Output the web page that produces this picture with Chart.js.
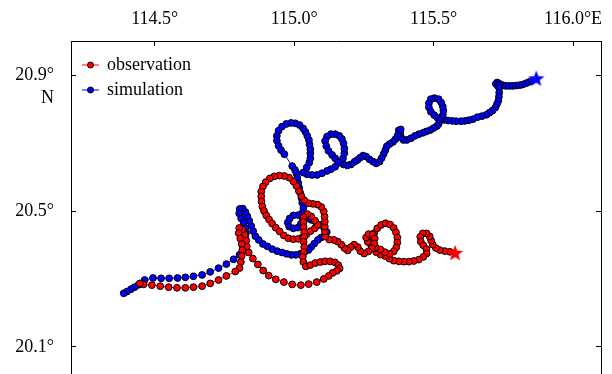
<!DOCTYPE html>
<html>
<head>
<meta charset="utf-8">
<script src="https://cdn.jsdelivr.net/npm/chart.js@4"></script>
<style>
    html, body { margin: 0; padding: 0; background: #fff; overflow: hidden; }
    #wrap { width: 612px; height: 374px; overflow: hidden; }
</style>
</head>
<body>
<div id="wrap"><canvas id="track" width="612" height="392"></canvas></div>
<script>
// axis ticks and labels
const lonTicks = [114.5, 115.0, 115.5, 116.0];
const lonTickLabels = ['114.5°', '115.0°', '115.5°', '116.0°E'];
const latTicks = [20.1, 20.5, 20.9];
const latTickLabels = ['20.1°', '20.5°', '20.9°'];
const latHemisphere = 'N';

const seriesNames = ['observation', 'simulation'];

// start positions (stars)
const obsStart = [115.577, 20.377];
const simStart = [115.868, 20.890];

// observed track
const obsLon = [
    115.558, 115.540, 115.522, 115.508, 115.497, 115.491, 115.486, 115.475, 115.461, 115.452,
    115.454, 115.463, 115.474, 115.475, 115.463, 115.447, 115.429, 115.411, 115.393, 115.375,
    115.357, 115.341, 115.325, 115.309, 115.294, 115.285, 115.281, 115.282, 115.287, 115.298,
    115.312, 115.328, 115.344, 115.357, 115.365, 115.370, 115.370, 115.366, 115.357, 115.343,
    115.325, 115.309, 115.292, 115.276, 115.264, 115.258, 115.267, 115.282, 115.289, 115.287,
    115.278, 115.266, 115.251, 115.237, 115.228, 115.215, 115.203, 115.192, 115.180, 115.169,
    115.156, 115.142, 115.126, 115.111, 115.110, 115.110, 115.110, 115.109, 115.106, 115.097,
    115.083, 115.067, 115.051, 115.036, 115.026, 115.017, 115.008, 114.997, 114.982, 114.965,
    114.947, 114.929, 114.913, 114.898, 114.888, 114.882, 114.882, 114.883, 114.886, 114.892,
    114.900, 114.910, 114.921, 114.934, 114.948, 114.963, 114.979, 114.997, 115.015, 115.031,
    115.045, 115.059, 115.074, 115.085, 115.074, 115.061, 115.047, 115.034, 115.033, 115.034,
    115.036, 115.036,
    115.034, 115.036, 115.034, 115.031, 115.033, 115.042, 115.058, 115.076, 115.094,
    115.111, 115.129, 115.146, 115.158, 115.163, 115.153, 115.138, 115.124, 115.106, 115.081,
    115.052, 115.024, 114.993, 114.963, 114.934, 114.909, 114.889, 114.870, 114.852, 114.837,
    114.830, 114.828, 114.823, 114.814, 114.803, 114.801, 114.807, 114.812, 114.814, 114.812,
    114.809, 114.804, 114.789, 114.757, 114.729, 114.699, 114.670, 114.639, 114.610, 114.580,
    114.550, 114.520, 114.490, 114.460, 114.447
];
const obsLat = [
    20.380, 20.382, 20.385, 20.391, 20.401, 20.413, 20.425, 20.434, 20.434, 20.424,
    20.410, 20.399, 20.388, 20.375, 20.365, 20.357, 20.353, 20.351, 20.351, 20.352,
    20.354, 20.360, 20.368, 20.372, 20.379, 20.391, 20.406, 20.421, 20.435, 20.449,
    20.459, 20.464, 20.460, 20.450, 20.437, 20.422, 20.407, 20.393, 20.381, 20.374,
    20.379, 20.387, 20.393, 20.399, 20.409, 20.422, 20.432, 20.431, 20.419, 20.404,
    20.391, 20.381, 20.375, 20.382, 20.394, 20.401, 20.394, 20.384, 20.391, 20.401,
    20.410, 20.415, 20.416, 20.425, 20.440, 20.454, 20.469, 20.484, 20.499, 20.512,
    20.519, 20.521, 20.523, 20.532, 20.544, 20.559, 20.574, 20.587, 20.598, 20.603,
    20.604, 20.602, 20.596, 20.585, 20.572, 20.557, 20.543, 20.528, 20.513, 20.500,
    20.487, 20.475, 20.463, 20.451, 20.440, 20.428, 20.420, 20.417, 20.418, 20.424,
    20.432, 20.441, 20.449, 20.459, 20.472, 20.484, 20.491, 20.482, 20.468, 20.453,
    20.438, 20.424,
    20.409, 20.394, 20.379, 20.365, 20.350, 20.337, 20.341, 20.347, 20.350,
    20.352, 20.352, 20.349, 20.341, 20.331, 20.324, 20.318, 20.309, 20.300, 20.291,
    20.285, 20.282, 20.284, 20.291, 20.299, 20.310, 20.325, 20.343, 20.360, 20.378,
    20.396, 20.413, 20.431, 20.446, 20.450, 20.435, 20.419, 20.403, 20.385, 20.368,
    20.350, 20.332, 20.322, 20.309, 20.297, 20.287, 20.279, 20.276, 20.274, 20.274,
    20.276, 20.279, 20.282, 20.284, 20.287
];

// simulated track
const simLon = [
    115.844, 115.832, 115.820, 115.808, 115.796, 115.784, 115.772, 115.760, 115.748, 115.736,
    115.728, 115.723, 115.730, 115.735, 115.735, 115.734, 115.732, 115.727, 115.721, 115.711,
    115.700, 115.689, 115.673, 115.657, 115.641, 115.626, 115.612, 115.598, 115.581, 115.567,
    115.552, 115.538, 115.526, 115.533, 115.535, 115.533, 115.527, 115.518, 115.503, 115.490,
    115.483, 115.483, 115.490, 115.502, 115.514, 115.521, 115.518, 115.512, 115.500, 115.488,
    115.474, 115.462, 115.447, 115.433, 115.419, 115.404, 115.392, 115.383, 115.380, 115.375,
    115.382, 115.371, 115.363, 115.354, 115.342, 115.332, 115.327, 115.321, 115.314, 115.306,
    115.294, 115.283, 115.270, 115.258, 115.247, 115.237, 115.227, 115.217, 115.204, 115.191,
    115.177, 115.165, 115.175, 115.180, 115.180, 115.177, 115.171, 115.162, 115.147, 115.132,
    115.118, 115.111, 115.115, 115.123, 115.136, 115.147, 115.157, 115.147, 115.132, 115.118,
    115.100, 115.082, 115.064, 115.046, 115.032, 115.045, 115.054, 115.058, 115.058, 115.058,
    115.055, 115.053, 115.047, 115.040, 115.032, 115.019, 115.004, 114.989, 114.972, 114.956,
    114.944, 114.938, 114.938, 114.944, 114.953, 114.965,
    114.993, 115.003, 115.008, 115.011, 115.015, 115.018, 115.022, 115.026, 115.029, 115.033,
    115.029, 115.015, 114.997, 114.984, 114.977, 114.982, 114.997, 115.013, 115.024, 115.031,
    115.046, 115.061, 115.076, 115.094, 115.108, 115.117, 115.110, 115.097, 115.085, 115.072,
    115.061, 115.051, 115.036, 115.022, 115.006, 114.990, 114.973, 114.956, 114.939, 114.921,
    114.904, 114.888, 114.873, 114.861, 114.853, 114.846, 114.839, 114.832, 114.825, 114.816,
    114.805, 114.803, 114.810, 114.819, 114.825, 114.827, 114.825, 114.821, 114.816, 114.804,
    114.783, 114.757, 114.729, 114.699, 114.670, 114.639, 114.610, 114.582, 114.552, 114.523,
    114.494, 114.464, 114.442, 114.428, 114.415, 114.401, 114.389
];
const simLat = [
    20.880, 20.876, 20.872, 20.870, 20.869, 20.868, 20.868, 20.868, 20.870, 20.874,
    20.878, 20.874, 20.868, 20.861, 20.848, 20.836, 20.824, 20.814, 20.804, 20.795,
    20.789, 20.783, 20.779, 20.776, 20.770, 20.767, 20.765, 20.764, 20.764, 20.765,
    20.766, 20.768, 20.771, 20.782, 20.795, 20.807, 20.819, 20.829, 20.832, 20.829,
    20.817, 20.805, 20.792, 20.782, 20.774, 20.766, 20.756, 20.750, 20.744, 20.738,
    20.734, 20.730, 20.726, 20.721, 20.714, 20.709, 20.709, 20.717, 20.728, 20.737,
    20.740, 20.722, 20.711, 20.703, 20.697, 20.690, 20.679, 20.668, 20.656, 20.645,
    20.640, 20.645, 20.652, 20.660, 20.663, 20.657, 20.650, 20.645, 20.637, 20.634,
    20.637, 20.642, 20.655, 20.670, 20.684, 20.699, 20.712, 20.721, 20.726, 20.726,
    20.719, 20.706, 20.691, 20.677, 20.665, 20.655, 20.643, 20.630, 20.623, 20.618,
    20.611, 20.606, 20.606, 20.608, 20.613, 20.628, 20.642, 20.655, 20.670, 20.682,
    20.696, 20.709, 20.721, 20.733, 20.743, 20.753, 20.758, 20.759, 20.756, 20.748,
    20.736, 20.721, 20.707, 20.692, 20.679, 20.667,
    20.632, 20.621, 20.611, 20.597, 20.582, 20.568, 20.553, 20.538, 20.524, 20.509,
    20.494, 20.488, 20.487, 20.478, 20.466, 20.454, 20.449, 20.451, 20.462, 20.475,
    20.479, 20.474, 20.469, 20.459, 20.449, 20.438, 20.428, 20.422, 20.415, 20.404,
    20.394, 20.385, 20.378, 20.374, 20.371, 20.371, 20.374, 20.378, 20.382, 20.388,
    20.396, 20.403, 20.415, 20.426, 20.441, 20.456, 20.471, 20.485, 20.497, 20.507,
    20.506, 20.493, 20.478, 20.465, 20.450, 20.435, 20.421, 20.406, 20.391, 20.371,
    20.358, 20.344, 20.332, 20.321, 20.312, 20.308, 20.305, 20.303, 20.302, 20.302,
    20.303, 20.297, 20.283, 20.276, 20.270, 20.263, 20.258
];

const FONT = '"Liberation Serif", "Times New Roman", serif';
const OBS_COLOR = '#ff0000';
const SIM_COLOR = '#0000ff';

function toPoints(lons, lats) {
    return lons.map((lon, i) => ({ x: lon, y: lats[i] }));
}

// filled five-point star used as a point style
function makeStar(color) {
    const c = document.createElement('canvas');
    c.width = 18;
    c.height = 18;
    const g = c.getContext('2d');
    g.fillStyle = color;
    g.beginPath();
    for (let i = 0; i < 10; i++) {
        const r = i % 2 === 0 ? 8.6 : 3.6;
        const a = -Math.PI / 2 + i * Math.PI / 5;
        g.lineTo(9 + r * Math.cos(a), 9.6 + r * Math.sin(a));
    }
    g.closePath();
    g.fill();
    return c;
}

function fixedTicks(values) {
    return (scale) => {
        scale.ticks = values.map((v) => ({ value: v }));
    };
}

// fixed axis box size, and no extra room reserved for label overhang
function fixedSize(prop, size) {
    return (scale) => {
        scale[prop] = size;
        scale.paddingTop = 0;
        scale.paddingBottom = 0;
        scale.paddingLeft = 0;
        scale.paddingRight = 0;
    };
}

// legend inside the plot + the "N" under the top latitude label
const overlayText = {
    id: 'overlayText',
    afterDraw(chart) {
        const { ctx, chartArea, scales } = chart;
        ctx.save();
        ctx.font = '18px ' + FONT;
        ctx.fillStyle = '#000';
        ctx.textBaseline = 'middle';

        const yTop = scales.y.getPixelForValue(latTicks[latTicks.length - 1]);
        ctx.textAlign = 'right';
        ctx.fillText(latHemisphere, chartArea.left - 17, yTop + 23);

        const colors = [OBS_COLOR, SIM_COLOR];
        ctx.textAlign = 'left';
        seriesNames.forEach((name, i) => {
            const y = chartArea.top + 24 + i * 25;
            const x0 = chartArea.left + 11;
            ctx.strokeStyle = colors[i];
            ctx.lineWidth = 1;
            ctx.beginPath();
            ctx.moveTo(x0, y);
            ctx.lineTo(x0 + 17, y);
            ctx.stroke();
            ctx.beginPath();
            ctx.arc(x0 + 8.5, y, 3, 0, Math.PI * 2);
            ctx.fillStyle = colors[i];
            ctx.fill();
            ctx.strokeStyle = '#000';
            ctx.stroke();
            ctx.fillStyle = '#000';
            ctx.fillText(name, x0 + 25, y);
        });
        ctx.restore();
    }
};

const axisBase = {
    type: 'linear',
    border: { color: '#000', width: 1 },
    grid: { drawOnChartArea: false, tickLength: -5, color: '#000', lineWidth: 1 },
};

new Chart(document.getElementById('track'), {
    type: 'scatter',
    data: {
        datasets: [
            {
                label: 'obsStart',
                data: [{ x: obsStart[0], y: obsStart[1] }],
                pointStyle: makeStar(OBS_COLOR),
                showLine: false,
            },
            {
                label: 'simStart',
                data: [{ x: simStart[0], y: simStart[1] }],
                pointStyle: makeStar(SIM_COLOR),
                showLine: false,
            },
            {
                label: seriesNames[0],
                data: toPoints(obsLon, obsLat),
                showLine: true,
                borderColor: OBS_COLOR,
                borderWidth: 1,
                pointBackgroundColor: OBS_COLOR,
                pointBorderColor: '#000',
                pointBorderWidth: 1,
                pointRadius: 3.4,
            },
            {
                label: seriesNames[1],
                data: toPoints(simLon, simLat),
                showLine: true,
                borderColor: SIM_COLOR,
                borderWidth: 1,
                pointBackgroundColor: SIM_COLOR,
                pointBorderColor: '#000',
                pointBorderWidth: 1,
                pointRadius: 3.4,
            },
        ]
    },
    options: {
        responsive: false,
        animation: false,
        devicePixelRatio: 1,
        layout: { padding: { top: 0, left: 0, right: 11, bottom: 11 } },
        plugins: {
            legend: { display: false },
            tooltip: { enabled: false },
        },
        scales: {
            x: {
                ...axisBase,
                position: 'top',
                min: 114.2,
                max: 116.1,
                afterBuildTicks: fixedTicks(lonTicks),
                afterFit: fixedSize('height', 41),
                ticks: {
                    padding: 16,
                    color: '#000',
                    font: { family: FONT, size: 18 },
                    maxRotation: 0,
                    callback: (v, i) => lonTickLabels[i],
                },
            },
            x2: {
                ...axisBase,
                position: 'bottom',
                min: 114.2,
                max: 116.1,
                afterBuildTicks: fixedTicks(lonTicks),
                afterFit: fixedSize('height', 0),
                ticks: { display: false },
            },
            y: {
                ...axisBase,
                position: 'left',
                min: 20.0,
                max: 21.0,
                afterBuildTicks: fixedTicks(latTicks),
                afterFit: fixedSize('width', 71),
                ticks: {
                    padding: 22,
                    color: '#000',
                    font: { family: FONT, size: 18 },
                    callback: (v, i) => latTickLabels[i],
                },
            },
            y2: {
                ...axisBase,
                position: 'right',
                min: 20.0,
                max: 21.0,
                afterBuildTicks: fixedTicks(latTicks),
                afterFit: fixedSize('width', 0),
                ticks: { display: false },
            },
        },
    },
    plugins: [overlayText],
});
</script>
</body>
</html>
